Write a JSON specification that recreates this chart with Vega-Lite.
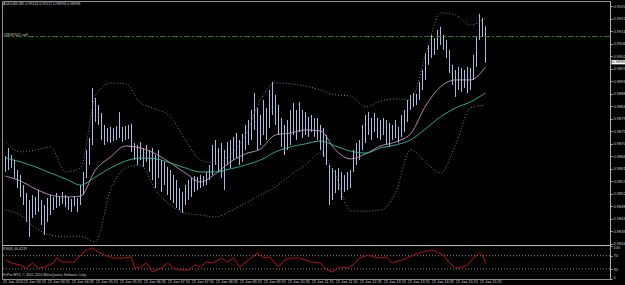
{
"$schema":"https://vega.github.io/schema/vega-lite/v6.json",
"width":608,"height":278,
"autosize":{"type":"none"},
"padding":{"left":2,"top":1,"right":15,"bottom":6},
"background":"#000000",
"config":{"view":{"stroke":"#8c8c8c","strokeWidth":1},"font":"Liberation Sans"},
"datasets":{
"bars":[
{"t":"02:45","h":0.98660,"l":0.98603},{"t":"02:50","h":0.98689,"l":0.98610},{"t":"02:55","h":0.98664,"l":0.98617},{"t":"03:00","h":0.98646,"l":0.98581},{"t":"03:05","h":0.98610,"l":0.98545},{"t":"03:10","h":0.98592,"l":0.98513},{"t":"03:15","h":0.98556,"l":0.98484},{"t":"03:20","h":0.98527,"l":0.98423},{"t":"03:25","h":0.98502,"l":0.98369},{"t":"03:30","h":0.98520,"l":0.98437},{"t":"03:35","h":0.98513,"l":0.98448},{"t":"03:40","h":0.98538,"l":0.98459},{"t":"03:45","h":0.98502,"l":0.98412},{"t":"03:50","h":0.98484,"l":0.98376},{"t":"03:55","h":0.98509,"l":0.98423},{"t":"04:00","h":0.98520,"l":0.98448},{"t":"04:05","h":0.98513,"l":0.98466},{"t":"04:10","h":0.98527,"l":0.98473},{"t":"04:15","h":0.98516,"l":0.98480},{"t":"04:20","h":0.98531,"l":0.98488},{"t":"04:25","h":0.98520,"l":0.98477},{"t":"04:30","h":0.98513,"l":0.98466},{"t":"04:35","h":0.98506,"l":0.98459},{"t":"04:40","h":0.98516,"l":0.98480},{"t":"04:45","h":0.98509,"l":0.98459},{"t":"04:50","h":0.98556,"l":0.98484},{"t":"04:55","h":0.98603,"l":0.98520},{"t":"05:00","h":0.98682,"l":0.98581},{"t":"05:05","h":0.98725,"l":0.98628},{"t":"05:10","h":0.98905,"l":0.98700},{"t":"05:15","h":0.98869,"l":0.98783},{"t":"05:20","h":0.98844,"l":0.98772},{"t":"05:25","h":0.98815,"l":0.98718},{"t":"05:30","h":0.98772,"l":0.98700},{"t":"05:35","h":0.98761,"l":0.98711},{"t":"05:40","h":0.98765,"l":0.98707},{"t":"05:45","h":0.98761,"l":0.98714},{"t":"05:50","h":0.98768,"l":0.98718},{"t":"05:55","h":0.98819,"l":0.98725},{"t":"06:00","h":0.98765,"l":0.98711},{"t":"06:05","h":0.98768,"l":0.98718},{"t":"06:10","h":0.98772,"l":0.98722},{"t":"06:15","h":0.98776,"l":0.98675},{"t":"06:20","h":0.98707,"l":0.98646},{"t":"06:25","h":0.98700,"l":0.98628},{"t":"06:30","h":0.98711,"l":0.98646},{"t":"06:35","h":0.98689,"l":0.98621},{"t":"06:40","h":0.98700,"l":0.98639},{"t":"06:45","h":0.98682,"l":0.98603},{"t":"06:50","h":0.98689,"l":0.98574},{"t":"06:55","h":0.98664,"l":0.98545},{"t":"07:00","h":0.98682,"l":0.98581},{"t":"07:05","h":0.98646,"l":0.98531},{"t":"07:10","h":0.98639,"l":0.98556},{"t":"07:15","h":0.98621,"l":0.98520},{"t":"07:20","h":0.98610,"l":0.98502},{"t":"07:25","h":0.98592,"l":0.98491},{"t":"07:30","h":0.98574,"l":0.98473},{"t":"07:35","h":0.98545,"l":0.98466},{"t":"07:40","h":0.98531,"l":0.98455},{"t":"07:45","h":0.98556,"l":0.98484},{"t":"07:50","h":0.98574,"l":0.98502},{"t":"07:55","h":0.98581,"l":0.98513},{"t":"08:00","h":0.98588,"l":0.98531},{"t":"08:05","h":0.98585,"l":0.98538},{"t":"08:10","h":0.98592,"l":0.98545},{"t":"08:15","h":0.98588,"l":0.98552},{"t":"08:20","h":0.98603,"l":0.98556},{"t":"08:25","h":0.98628,"l":0.98574},{"t":"08:30","h":0.98700,"l":0.98592},{"t":"08:35","h":0.98718,"l":0.98628},{"t":"08:40","h":0.98689,"l":0.98603},{"t":"08:45","h":0.98707,"l":0.98581},{"t":"08:50","h":0.98682,"l":0.98538},{"t":"08:55","h":0.98711,"l":0.98628},{"t":"09:00","h":0.98718,"l":0.98617},{"t":"09:05","h":0.98729,"l":0.98646},{"t":"09:10","h":0.98743,"l":0.98653},{"t":"09:15","h":0.98718,"l":0.98628},{"t":"09:20","h":0.98740,"l":0.98639},{"t":"09:25","h":0.98772,"l":0.98682},{"t":"09:30","h":0.98790,"l":0.98700},{"t":"09:35","h":0.98826,"l":0.98718},{"t":"09:40","h":0.98887,"l":0.98754},{"t":"09:45","h":0.98833,"l":0.98682},{"t":"09:50","h":0.98808,"l":0.98700},{"t":"09:55","h":0.98862,"l":0.98736},{"t":"10:00","h":0.98833,"l":0.98718},{"t":"10:05","h":0.98898,"l":0.98761},{"t":"10:10","h":0.98927,"l":0.98808},{"t":"10:15","h":0.98880,"l":0.98772},{"t":"10:20","h":0.98844,"l":0.98736},{"t":"10:25","h":0.98797,"l":0.98693},{"t":"10:30","h":0.98772,"l":0.98664},{"t":"10:35","h":0.98790,"l":0.98682},{"t":"10:40","h":0.98826,"l":0.98700},{"t":"10:45","h":0.98851,"l":0.98736},{"t":"10:50","h":0.98826,"l":0.98718},{"t":"10:55","h":0.98855,"l":0.98747},{"t":"11:00","h":0.98826,"l":0.98725},{"t":"11:05","h":0.98819,"l":0.98736},{"t":"11:10","h":0.98801,"l":0.98729},{"t":"11:15","h":0.98808,"l":0.98747},{"t":"11:20","h":0.98797,"l":0.98729},{"t":"11:25","h":0.98797,"l":0.98718},{"t":"11:30","h":0.98772,"l":0.98682},{"t":"11:35","h":0.98761,"l":0.98657},{"t":"11:40","h":0.98736,"l":0.98628},{"t":"11:45","h":0.98628,"l":0.98484},{"t":"11:50","h":0.98617,"l":0.98502},{"t":"11:55","h":0.98610,"l":0.98527},{"t":"12:00","h":0.98617,"l":0.98538},{"t":"12:05","h":0.98603,"l":0.98502},{"t":"12:10","h":0.98592,"l":0.98531},{"t":"12:15","h":0.98603,"l":0.98538},{"t":"12:20","h":0.98610,"l":0.98545},{"t":"12:25","h":0.98682,"l":0.98603},{"t":"12:30","h":0.98707,"l":0.98628},{"t":"12:35","h":0.98718,"l":0.98646},{"t":"12:40","h":0.98772,"l":0.98682},{"t":"12:45","h":0.98808,"l":0.98707},{"t":"12:50","h":0.98819,"l":0.98736},{"t":"12:55","h":0.98797,"l":0.98718},{"t":"13:00","h":0.98815,"l":0.98747},{"t":"13:05","h":0.98797,"l":0.98725},{"t":"13:10","h":0.98790,"l":0.98718},{"t":"13:15","h":0.98797,"l":0.98736},{"t":"13:20","h":0.98790,"l":0.98700},{"t":"13:25","h":0.98779,"l":0.98693},{"t":"13:30","h":0.98772,"l":0.98718},{"t":"13:35","h":0.98790,"l":0.98725},{"t":"13:40","h":0.98765,"l":0.98707},{"t":"13:45","h":0.98808,"l":0.98729},{"t":"13:50","h":0.98826,"l":0.98747},{"t":"13:55","h":0.98862,"l":0.98783},{"t":"14:00","h":0.98880,"l":0.98826},{"t":"14:05","h":0.98887,"l":0.98837},{"t":"14:10","h":0.98884,"l":0.98844},{"t":"14:15","h":0.98927,"l":0.98862},{"t":"14:20","h":0.98970,"l":0.98898},{"t":"14:25","h":0.99031,"l":0.98934},{"t":"14:30","h":0.99060,"l":0.98988},{"t":"14:35","h":0.99096,"l":0.99013},{"t":"14:40","h":0.99085,"l":0.99024},{"t":"14:45","h":0.99114,"l":0.99042},{"t":"14:50","h":0.99125,"l":0.99060},{"t":"14:55","h":0.99096,"l":0.99042},{"t":"15:00","h":0.99078,"l":0.99013},{"t":"15:05","h":0.99042,"l":0.98959},{"t":"15:10","h":0.98988,"l":0.98916},{"t":"15:15","h":0.98970,"l":0.98873},{"t":"15:20","h":0.98981,"l":0.98898},{"t":"15:25","h":0.98977,"l":0.98891},{"t":"15:30","h":0.98970,"l":0.98905},{"t":"15:35","h":0.98981,"l":0.98887},{"t":"15:40","h":0.98977,"l":0.98898},{"t":"15:45","h":0.99024,"l":0.98934},{"t":"15:50","h":0.99089,"l":0.98981},{"t":"15:55","h":0.99172,"l":0.99078},{"t":"16:00","h":0.99157,"l":0.99089},{"t":"16:05","h":0.99127,"l":0.98996}
],
"ind":[
{"t":"02:45","m1":0.98588,"m2":0.98653,"ub":0.98711,"lb":0.98466},{"t":"03:10","m1":0.98570,"m2":0.98639,"ub":0.98675,"lb":0.98448},{"t":"03:35","m1":0.98542,"m2":0.98621,"ub":0.98682,"lb":0.98401},{"t":"04:00","m1":0.98520,"m2":0.98599,"ub":0.98693,"lb":0.98376},{"t":"04:25","m1":0.98513,"m2":0.98578,"ub":0.98603,"lb":0.98369},{"t":"04:50","m1":0.98516,"m2":0.98556,"ub":0.98617,"lb":0.98372},{"t":"05:15","m1":0.98610,"m2":0.98585,"ub":0.98876,"lb":0.98351},{"t":"05:40","m1":0.98657,"m2":0.98617,"ub":0.98923,"lb":0.98538},{"t":"06:05","m1":0.98696,"m2":0.98642,"ub":0.98920,"lb":0.98617},{"t":"06:30","m1":0.98689,"m2":0.98653,"ub":0.98851,"lb":0.98628},{"t":"06:55","m1":0.98668,"m2":0.98650,"ub":0.98830,"lb":0.98538},{"t":"07:20","m1":0.98635,"m2":0.98635,"ub":0.98801,"lb":0.98484},{"t":"07:45","m1":0.98599,"m2":0.98617,"ub":0.98718,"lb":0.98455},{"t":"08:10","m1":0.98567,"m2":0.98603,"ub":0.98646,"lb":0.98448},{"t":"08:35","m1":0.98596,"m2":0.98603,"ub":0.98635,"lb":0.98441},{"t":"09:00","m1":0.98639,"m2":0.98614,"ub":0.98664,"lb":0.98462},{"t":"09:25","m1":0.98668,"m2":0.98628,"ub":0.98736,"lb":0.98491},{"t":"09:50","m1":0.98686,"m2":0.98646,"ub":0.98862,"lb":0.98520},{"t":"10:15","m1":0.98736,"m2":0.98675,"ub":0.98923,"lb":0.98549},{"t":"10:40","m1":0.98743,"m2":0.98693,"ub":0.98920,"lb":0.98592},{"t":"11:05","m1":0.98754,"m2":0.98704,"ub":0.98912,"lb":0.98628},{"t":"11:30","m1":0.98750,"m2":0.98714,"ub":0.98898,"lb":0.98671},{"t":"11:55","m1":0.98682,"m2":0.98696,"ub":0.98880,"lb":0.98592},{"t":"12:20","m1":0.98650,"m2":0.98678,"ub":0.98876,"lb":0.98462},{"t":"12:45","m1":0.98668,"m2":0.98671,"ub":0.98837,"lb":0.98462},{"t":"13:10","m1":0.98696,"m2":0.98689,"ub":0.98858,"lb":0.98466},{"t":"13:35","m1":0.98711,"m2":0.98700,"ub":0.98866,"lb":0.98527},{"t":"14:00","m1":0.98740,"m2":0.98718,"ub":0.98862,"lb":0.98682},{"t":"14:25","m1":0.98840,"m2":0.98758,"ub":0.99024,"lb":0.98639},{"t":"14:50","m1":0.98909,"m2":0.98801,"ub":0.99175,"lb":0.98599},{"t":"15:15","m1":0.98934,"m2":0.98833,"ub":0.99168,"lb":0.98700},{"t":"15:40","m1":0.98934,"m2":0.98855,"ub":0.99132,"lb":0.98833},{"t":"16:05","m1":0.98981,"m2":0.98887,"ub":0.99157,"lb":0.98844}
],
"rsi":[
{"t":"02:45","r":57},{"t":"02:55","r":48},{"t":"03:10","r":42},{"t":"03:20","r":33},{"t":"03:30","r":48},{"t":"03:40","r":33},{"t":"03:50","r":36},{"t":"04:05","r":48},{"t":"04:10","r":63},{"t":"04:20","r":51},{"t":"04:40","r":51},{"t":"04:50","r":72},{"t":"05:00","r":87},{"t":"05:10","r":93},{"t":"05:20","r":81},{"t":"05:30","r":72},{"t":"05:45","r":63},{"t":"06:00","r":63},{"t":"06:15","r":66},{"t":"06:20","r":33},{"t":"06:30","r":36},{"t":"06:40","r":48},{"t":"06:50","r":21},{"t":"07:05","r":33},{"t":"07:15","r":48},{"t":"07:25","r":33},{"t":"07:35","r":27},{"t":"07:50","r":27},{"t":"08:00","r":42},{"t":"08:10","r":36},{"t":"08:20","r":51},{"t":"08:30","r":48},{"t":"08:45","r":63},{"t":"08:55","r":51},{"t":"09:05","r":63},{"t":"09:15","r":36},{"t":"09:30","r":57},{"t":"09:45","r":78},{"t":"09:55","r":63},{"t":"10:05","r":66},{"t":"10:20","r":36},{"t":"10:30","r":57},{"t":"10:40","r":63},{"t":"10:55","r":63},{"t":"11:15","r":51},{"t":"11:30","r":48},{"t":"11:40","r":27},{"t":"11:50","r":21},{"t":"12:00","r":36},{"t":"12:15","r":33},{"t":"12:25","r":42},{"t":"12:35","r":63},{"t":"12:50","r":72},{"t":"13:00","r":66},{"t":"13:10","r":63},{"t":"13:20","r":66},{"t":"13:30","r":48},{"t":"13:45","r":57},{"t":"13:55","r":63},{"t":"14:05","r":72},{"t":"14:20","r":81},{"t":"14:35","r":87},{"t":"14:45","r":81},{"t":"14:55","r":72},{"t":"15:05","r":48},{"t":"15:15","r":33},{"t":"15:25","r":36},{"t":"15:35","r":42},{"t":"15:45","r":63},{"t":"15:55","r":78},{"t":"16:00","r":72},{"t":"16:05","r":46.4}
],
"xlab":[
{"tm":"02:40","lab":"21 Jan 2011"},{"tm":"03:15","lab":"21 Jan 03:15"},{"tm":"03:55","lab":"21 Jan 03:55"},{"tm":"04:35","lab":"21 Jan 04:35"},{"tm":"05:15","lab":"21 Jan 05:15"},{"tm":"05:55","lab":"21 Jan 05:55"},{"tm":"06:35","lab":"21 Jan 06:35"},{"tm":"07:15","lab":"21 Jan 07:15"},{"tm":"07:55","lab":"21 Jan 07:55"},{"tm":"08:35","lab":"21 Jan 08:35"},{"tm":"09:15","lab":"21 Jan 09:15"},{"tm":"09:55","lab":"21 Jan 09:55"},{"tm":"10:35","lab":"21 Jan 10:35"},{"tm":"11:15","lab":"21 Jan 11:15"},{"tm":"11:55","lab":"21 Jan 11:55"},{"tm":"12:35","lab":"21 Jan 12:35"},{"tm":"13:15","lab":"21 Jan 13:15"},{"tm":"13:55","lab":"21 Jan 13:55"},{"tm":"14:35","lab":"21 Jan 14:35"},{"tm":"15:15","lab":"21 Jan 15:15"},{"tm":"15:55","lab":"21 Jan 15:55"}
]
},
"layer":[
 {"data":{"name":"bars","format":{"parse":{"t":"utc:'%H:%M'"}}},
  "mark":{"type":"rule","color":"#adbadc","strokeWidth":1},
  "encoding":{
   "x":{"field":"t","type":"temporal","scale":{"type":"utc","domain":[-2208979250000,-2208918450000]},"axis":null},
   "y":{"field":"h","type":"quantitative","scale":{"domain":[0.983375,0.99218],"range":[244.7,0],"zero":false,"nice":false},
     "axis":{"orient":"right","values":[0.992,0.99155,0.9911,0.99065,0.9902,0.98975,0.9893,0.98885,0.9884,0.98795,0.9875,0.98705,0.9866,0.98615,0.9857,0.98525,0.9848,0.98435,0.9839,0.98345],"format":".5f","tickSize":2,"tickColor":"#b0b0b0","domainColor":"#b0b0b0","labelColor":"#c8c8c8","labelFontSize":4,"labelPadding":1,"title":null,"grid":false,"labelOverlap":false}},
   "y2":{"field":"l"}}},
 {"data":{"name":"ind","format":{"parse":{"t":"utc:'%H:%M'"}}},
  "transform":[{"fold":["ub","lb","m1","m2"],"as":["s","v"]}],
  "mark":{"type":"line","interpolate":"monotone","strokeWidth":1},
  "encoding":{
   "x":{"field":"t","type":"temporal","scale":{"type":"utc","domain":[-2208979250000,-2208918450000]},"axis":null},
   "y":{"field":"v","type":"quantitative","scale":{"domain":[0.983375,0.99218],"range":[244.7,0],"zero":false,"nice":false},"axis":null},
   "detail":{"field":"s"},
   "color":{"field":"s","type":"nominal","scale":{"domain":["ub","lb","m1","m2"],"range":["#7c7c7c","#7c7c7c","#c99ac6","#3dbaa2"]},"legend":null},
   "strokeDash":{"field":"s","type":"nominal","scale":{"domain":["ub","lb","m1","m2"],"range":[[1,2],[1,2],[1,0],[1,0]]},"legend":null},
   "strokeWidth":{"field":"s","type":"nominal","scale":{"domain":["ub","lb","m1","m2"],"range":[1,1,1,1.4]},"legend":null}}},
 {"data":{"values":[{"p":0.9909}]},
  "mark":{"type":"rule","color":"#2f7a2f","strokeWidth":1,"strokeDash":[6,2,2,2]},
  "encoding":{"y":{"field":"p","type":"quantitative","scale":{"domain":[0.983375,0.99218],"range":[244.7,0],"zero":false,"nice":false},"axis":null}}},
 {"data":{"values":[{"p":0.98338}]},
  "mark":{"type":"rule","color":"#c0c0c0","strokeWidth":1},
  "encoding":{"y":{"field":"p","type":"quantitative","scale":{"domain":[0.983375,0.99218],"range":[244.7,0],"zero":false,"nice":false},"axis":null}}},
 {"data":{"values":[{"txt":"AUDUSD,M5  0.99124 0.99127 0.98996 0.98998","p":0.99213},{"txt":"#18187507 sell","p":0.99104}]},
  "mark":{"type":"text","align":"left","baseline":"top","fontSize":3.6,"color":"#d0d0d0"},
  "encoding":{
   "text":{"field":"txt"},
   "x":{"datum":-2208979140000,"type":"temporal","scale":{"type":"utc","domain":[-2208979250000,-2208918450000]},"axis":null},
   "y":{"field":"p","type":"quantitative","scale":{"domain":[0.983375,0.99218],"range":[244.7,0],"zero":false,"nice":false},"axis":null}}},
 {"data":{"values":[{"c":0.98998}]},
  "mark":{"type":"rect","color":"#ffffff"},
  "encoding":{
   "x":{"datum":-2208918300000,"type":"temporal","scale":{"type":"utc","domain":[-2208979250000,-2208918450000]},"axis":null},
   "x2":{"datum":-2208916860000},
   "y":{"datum":0.99006,"type":"quantitative","scale":{"domain":[0.983375,0.99218],"range":[244.7,0],"zero":false,"nice":false},"axis":null},
   "y2":{"datum":0.9899}}},
 {"data":{"values":[{"c":0.98998}]},
  "mark":{"type":"text","align":"left","baseline":"middle","fontSize":4,"color":"#000000"},
  "encoding":{
   "text":{"field":"c","format":".5f"},
   "x":{"datum":-2208918240000,"type":"temporal","scale":{"type":"utc","domain":[-2208979250000,-2208918450000]},"axis":null},
   "y":{"field":"c","type":"quantitative","scale":{"domain":[0.983375,0.99218],"range":[244.7,0],"zero":false,"nice":false},"axis":null}}},
 {"data":{"values":[{"lv":70},{"lv":30}]},
  "mark":{"type":"rule","color":"#8a8a8a","strokeWidth":1,"strokeDash":[1,2]},
  "encoding":{"y":{"field":"lv","type":"quantitative","scale":{"domain":[0,100],"range":[278,244.7],"nice":false,"zero":false},"axis":null}}},
 {"data":{"name":"rsi","format":{"parse":{"t":"utc:'%H:%M'"}}},
  "mark":{"type":"line","color":"#b41414","strokeWidth":1},
  "encoding":{
   "x":{"field":"t","type":"temporal","scale":{"type":"utc","domain":[-2208979250000,-2208918450000]},"axis":null},
   "y":{"field":"r","type":"quantitative","scale":{"domain":[0,100],"range":[278,244.7],"nice":false,"zero":false},
     "axis":{"orient":"right","values":[0,30,70,100],"labelFlush":true,"tickSize":2,"tickColor":"#b0b0b0","domainColor":"#b0b0b0","labelColor":"#c8c8c8","labelFontSize":4,"labelPadding":1,"title":null,"grid":false,"labelOverlap":false}}}},
 {"data":{"values":[{"txt":"RSI(8) 46.4239","r":96.6},{"txt":"FxPro MT4, © 2001-2010 MetaQuotes Software Corp.","r":19.5}]},
  "mark":{"type":"text","align":"left","baseline":"top","fontSize":3.5,"color":"#c8c8c8"},
  "encoding":{
   "text":{"field":"txt"},
   "x":{"datum":-2208979140000,"type":"temporal","scale":{"type":"utc","domain":[-2208979250000,-2208918450000]},"axis":null},
   "y":{"field":"r","type":"quantitative","scale":{"domain":[0,100],"range":[278,244.7],"nice":false,"zero":false},"axis":null}}},
 {"data":{"name":"xlab","format":{"parse":{"tm":"utc:'%H:%M'"}}},
  "mark":{"type":"text","align":"left","baseline":"top","fontSize":3.8,"color":"#d0d0d0","dx":0.5},
  "encoding":{
   "text":{"field":"lab","type":"nominal"},
   "x":{"field":"tm","type":"temporal","scale":{"type":"utc","domain":[-2208979250000,-2208918450000]},"axis":null},
   "y":{"datum":-4,"type":"quantitative","scale":{"domain":[0,100],"range":[278,244.7],"nice":false,"zero":false},"axis":null}}}
],
"resolve":{"scale":{"y":"independent","color":"independent","strokeDash":"independent","strokeWidth":"independent"}}
}
